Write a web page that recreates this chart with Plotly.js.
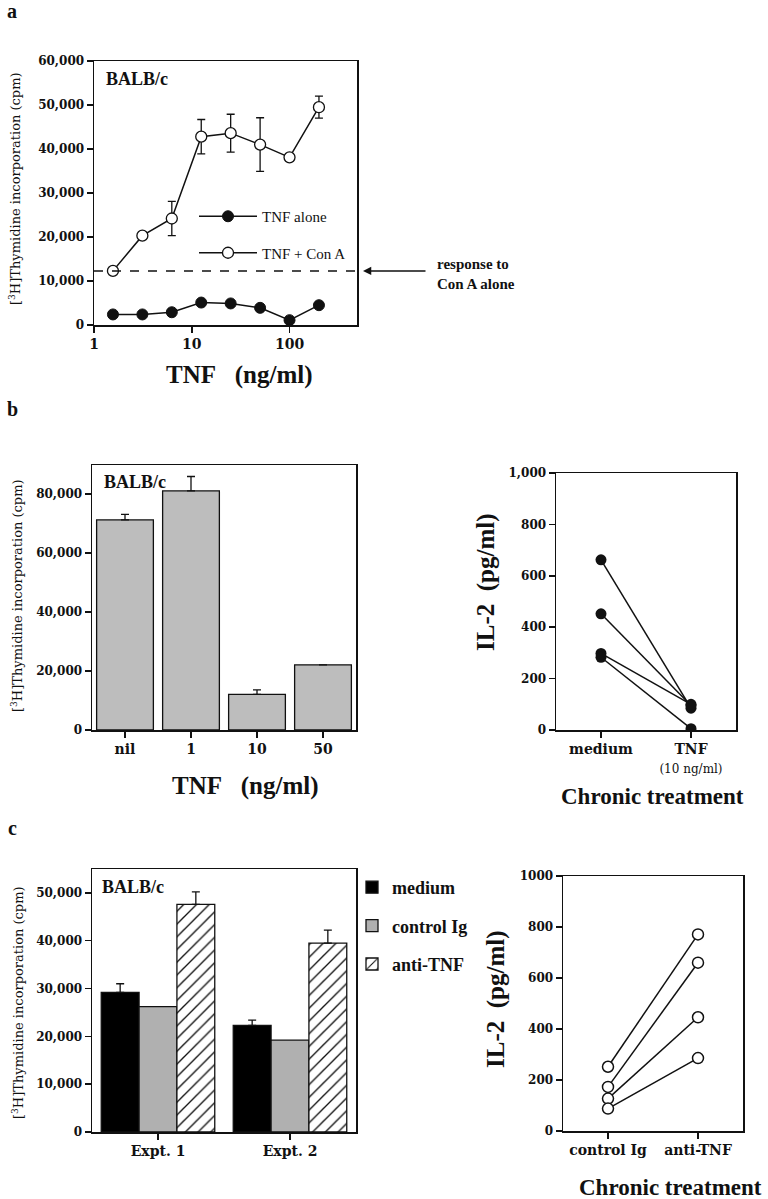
<!DOCTYPE html>
<html>
<head>
<meta charset="utf-8">
<script src="https://cdn.plot.ly/plotly-3.0.1.min.js"></script>
<style>html,body{margin:0;padding:0;background:#fff;}#chart{width:768px;height:1199px;}</style>
</head>
<body>
<div id="chart"></div>
<script>
// ---------- Panel a data ----------
const doseA = [1.5625, 3.125, 6.25, 12.5, 25, 50, 100, 200];
const tnfAlone = [2400, 2400, 2900, 5100, 4900, 3900, 1100, 4500];
const tnfConA = [12300, 20300, 24200, 42800, 43600, 41000, 38100, 49500];
const tnfConAErr = [null, null, 3900, 3900, 4300, 6100, null, 2500];
const conAAlone = 12300;
const xTicksA = [1, 10, 100];

// ---------- Panel b data ----------
const doseB = ['nil', '1', '10', '50'];
const cpmB = [71200, 81000, 12100, 22100];
const cpmBErr = [1900, 4900, 1500, null];
const groupsB = ['medium', 'TNF'];
const groupsBText = ['medium', 'TNF<br><span style="font-size:12px;font-weight:normal">(10 ng/ml)</span>'];
const il2Medium = [662, 452, 298, 283];
const il2TNF = [85, 95, 100, 5];

// ---------- Panel c data ----------
const expts = ['Expt. 1', 'Expt. 2'];
const cpmMedium = [29200, 22300];
const cpmMediumErr = [1800, 1100];
const cpmControl = [26200, 19200];
const cpmAnti = [47600, 39500];
const cpmAntiErr = [2600, 2700];
const groupsC = ['control Ig', 'anti-TNF'];
const il2Control = [252, 173, 127, 88];
const il2Anti = [771, 660, 446, 286];

const W = 768, H = 1199;
const px = v => v / W;
const py = v => 1 - v / H;
const serif = 'DejaVu Serif';
const serif2 = 'Liberation Serif';
const tickFont = {family: serif, size: 12, color: '#111', weight: 'bold'};
const catFont = {family: serif, size: 14, color: '#111', weight: 'bold'};

function axisBase(extra) {
  return Object.assign({
    showline: true, mirror: true, linecolor: '#111', linewidth: 1.5,
    ticks: 'outside', ticklen: 6, tickwidth: 1.5, tickcolor: '#111',
    showgrid: false, zeroline: false, fixedrange: true,
    tickfont: tickFont
  }, extra);
}

const traces = [];
// Panel a
traces.push({
  x: doseA, y: tnfAlone, xaxis: 'x', yaxis: 'y', type: 'scatter', mode: 'lines+markers',
  name: 'TNF alone', legend: 'legend2', legendgroup: 'a1',
  line: {color: '#111', width: 1.5},
  marker: {symbol: 'circle', size: 11, color: '#111', line: {color: '#111', width: 1}}
});
traces.push({
  x: doseA, y: tnfConA, xaxis: 'x', yaxis: 'y', type: 'scatter', mode: 'lines+markers',
  name: 'TNF + Con A', legend: 'legend2', legendgroup: 'a2',
  line: {color: '#111', width: 1.5},
  marker: {symbol: 'circle', size: 11, color: '#fff', line: {color: '#111', width: 1.3}},
  error_y: {type: 'data', array: tnfConAErr, symmetric: true, color: '#111', thickness: 1.3, width: 4}
});
// Panel b left
traces.push({
  x: doseB, y: cpmB, xaxis: 'x2', yaxis: 'y2', type: 'bar', showlegend: false,
  marker: {color: '#bdbdbd', line: {color: '#111', width: 1.3}},
  error_y: {type: 'data', array: cpmBErr, arrayminus: [0, 0, 0, 0], symmetric: false, color: '#111', thickness: 1.3, width: 4}
});
// Panel b right
for (let i = 0; i < il2Medium.length; i++) {
  traces.push({
    x: groupsB, y: [il2Medium[i], il2TNF[i]], xaxis: 'x3', yaxis: 'y3', type: 'scatter',
    mode: 'lines+markers', showlegend: false,
    line: {color: '#111', width: 1.5},
    marker: {symbol: 'circle', size: 11, color: '#111'}
  });
}
// Panel c left
traces.push({
  x: expts, y: cpmMedium, xaxis: 'x4', yaxis: 'y4', type: 'bar', name: 'medium', legendgroup: 'c1',
  marker: {color: '#000', line: {color: '#111', width: 1.3}},
  error_y: {type: 'data', array: cpmMediumErr, arrayminus: [0, 0], symmetric: false, color: '#111', thickness: 1.3, width: 4}
});
traces.push({
  x: expts, y: cpmControl, xaxis: 'x4', yaxis: 'y4', type: 'bar', name: 'control Ig', legendgroup: 'c2',
  marker: {color: '#b0b0b0', line: {color: '#111', width: 1.3}}
});
traces.push({
  x: expts, y: cpmAnti, xaxis: 'x4', yaxis: 'y4', type: 'bar', name: 'anti-TNF', legendgroup: 'c3',
  marker: {color: '#fff', line: {color: '#111', width: 1.3},
    pattern: {shape: '/', fgcolor: '#111', bgcolor: '#fff', size: 9, solidity: 0.15}},
  error_y: {type: 'data', array: cpmAntiErr, arrayminus: [0, 0], symmetric: false, color: '#111', thickness: 1.3, width: 4}
});
// Panel c right
for (let i = 0; i < il2Control.length; i++) {
  traces.push({
    x: groupsC, y: [il2Control[i], il2Anti[i]], xaxis: 'x5', yaxis: 'y5', type: 'scatter',
    mode: 'lines+markers', showlegend: false,
    line: {color: '#111', width: 1.5},
    marker: {symbol: 'circle', size: 11, color: '#fff', line: {color: '#111', width: 1.5}}
  });
}

function ann(text, x, y, size, opts) {
  return Object.assign({
    text: text, xref: 'paper', yref: 'paper', x: px(x), y: py(y),
    showarrow: false, xanchor: 'center', yanchor: 'middle',
    font: {family: serif2, size: size, color: '#111', weight: 'bold'}
  }, opts || {});
}
const yTitleFont = {family: serif, size: 13, color: '#111'};

const annotations = [
  ann('a', 12, 11, 20),
  ann('b', 12, 409, 20),
  ann('c', 12, 828, 20),
  // panel a
  ann('BALB/c', 104, 79, 18, {xanchor: 'left'}),
  ann('[<sup>3</sup>H]Thymidine incorporation (cpm)', 15, 189, 13, {textangle: -90, font: yTitleFont}),
  ann('TNF\u00a0\u00a0\u00a0(ng/ml)', 239, 375, 25),
  ann('response to<br>Con A alone', 435, 274, 15, {xanchor: 'left', align: 'left'}),
  {text: '', xref: 'paper', yref: 'y', x: px(363), y: conAAlone, ax: 64, ay: 0,
   showarrow: true, arrowhead: 2, arrowsize: 1.1, arrowwidth: 1.5, arrowcolor: '#111'},
  // panel b left
  ann('BALB/c', 102, 482, 18, {xanchor: 'left'}),
  ann('[<sup>3</sup>H]Thymidine incorporation (cpm)', 17, 596, 13, {textangle: -90, font: yTitleFont}),
  ann('TNF\u00a0\u00a0\u00a0(ng/ml)', 245, 786, 25),
  // panel b right
  ann('IL-2\u00a0\u00a0(pg/ml)', 486, 582, 25, {textangle: -90}),
  ann('Chronic treatment', 652, 796, 23),
  // panel c left
  ann('BALB/c', 100, 887, 18, {xanchor: 'left'}),
  ann('[<sup>3</sup>H]Thymidine incorporation (cpm)', 18, 1003, 13, {textangle: -90, font: yTitleFont}),
  // panel c right
  ann('IL-2\u00a0\u00a0(pg/ml)', 496, 999, 25, {textangle: -90}),
  ann('Chronic treatment', 670, 1187, 23)
];

const layout = {
  width: W, height: H,
  margin: {l: 0, r: 0, t: 0, b: 0},
  paper_bgcolor: '#fff', plot_bgcolor: '#fff',
  font: {family: serif, color: '#111'},
  barmode: 'group',
  bargap: 0.14, bargroupgap: 0,
  // Panel a
  xaxis: axisBase({domain: [px(94), px(357)], anchor: 'y', type: 'log', range: [0, Math.log10(490)],
    tickvals: xTicksA, ticktext: xTicksA.map(String), tickfont: catFont}),
  yaxis: axisBase({domain: [py(325), py(61)], anchor: 'x', range: [0, 60000], dtick: 10000, tickformat: ',d'}),
  // Panel b left
  xaxis2: axisBase({domain: [px(92), px(356)], anchor: 'y2', type: 'category', tickfont: catFont, range: [-0.5, 3.5]}),
  yaxis2: axisBase({domain: [py(730), py(465)], anchor: 'x2', range: [0, 89800], tickvals: [0, 20000, 40000, 60000, 80000], tickformat: ',d'}),
  // Panel b right
  xaxis3: axisBase({domain: [px(556), px(736)], anchor: 'y3', type: 'category', range: [-0.5, 1.5],
    tickvals: groupsB, ticktext: groupsBText, tickfont: catFont}),
  yaxis3: axisBase({domain: [py(730), py(473)], anchor: 'x3', range: [0, 1000], dtick: 200, tickformat: ',d'}),
  // Panel c left
  xaxis4: axisBase({domain: [px(92), px(356)], anchor: 'y4', type: 'category', tickfont: catFont, range: [-0.5, 1.5]}),
  yaxis4: axisBase({domain: [py(1132), py(869)], anchor: 'x4', range: [0, 55000], dtick: 10000, tickformat: ',d'}),
  // Panel c right
  xaxis5: axisBase({domain: [px(563), px(743)], anchor: 'y5', type: 'category', range: [-0.5, 1.5], tickfont: catFont}),
  yaxis5: axisBase({domain: [py(1131), py(876)], anchor: 'x5', range: [0, 1000], dtick: 200, tickformat: 'd'}),
  showlegend: true,
  legend: {x: px(352), y: py(869), xanchor: 'left', yanchor: 'top', traceorder: 'grouped', tracegroupgap: 12,
    bgcolor: 'rgba(0,0,0,0)', font: {family: serif2, size: 18, color: '#111', weight: 'bold'}},
  legend2: {x: px(194), y: py(200), xanchor: 'left', yanchor: 'top', traceorder: 'grouped', tracegroupgap: 14,
    itemwidth: 58,
    bgcolor: 'rgba(0,0,0,0)', font: {family: serif2, size: 15, color: '#111'}},
  shapes: [
    {type: 'line', xref: 'x domain', yref: 'y', x0: 0, x1: 1, y0: conAAlone, y1: conAAlone,
     line: {color: '#111', width: 1.5, dash: 'dash'}}
  ],
  annotations: annotations
};

Plotly.newPlot('chart', traces, layout, {displayModeBar: false, staticPlot: true});
</script>
</body>
</html>
